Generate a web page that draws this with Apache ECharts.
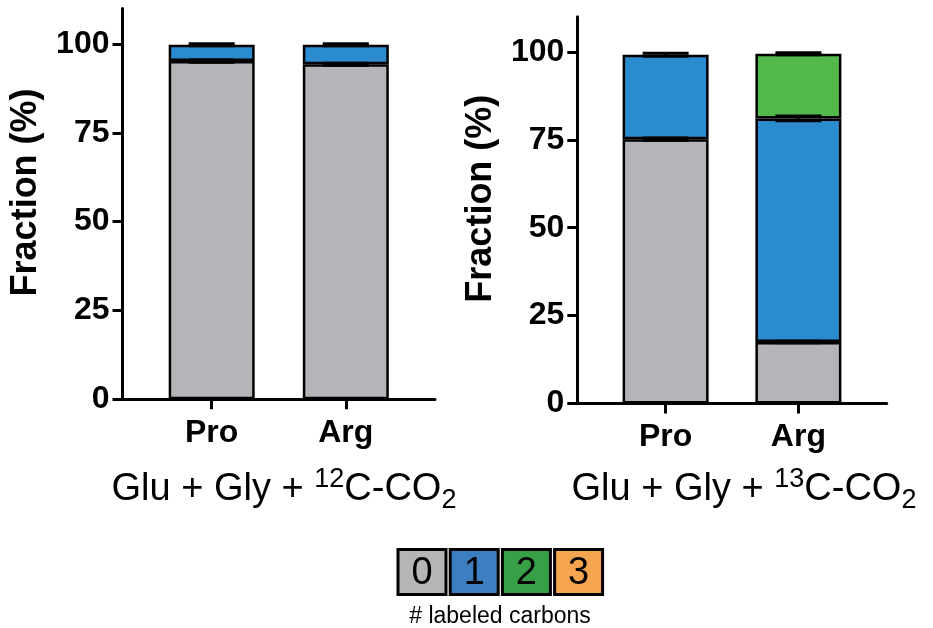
<!DOCTYPE html>
<html>
<head>
<meta charset="utf-8">
<script src="https://cdn.jsdelivr.net/npm/echarts@6/dist/echarts.min.js"></script>
<style>
  html, body { margin: 0; padding: 0; background: #fff; }
  #chart { width: 933px; height: 628px; }
</style>
</head>
<body>
<div id="chart"></div>
<script>
// Amino acids on the x axis and their positions on the (value) x axis
const categories = ['Pro', 'Arg'];
const categoryPos = [1, 2];
// Number of labeled carbons (M+0 ... M+3)
const labelCounts = ['0', '1', '2', '3'];
const yTicks = [0, 25, 50, 75, 100];

// Glu + Gly + 12C-CO2: mean fraction (%) per number of labeled carbons
const m0_12C = [95.2, 94.3];
const m1_12C = [4.6, 5.5];
const m2_12C = [0, 0];
const m3_12C = [0, 0];
// standard deviations
const sd0_12C = [0.3, 0.3];
const sd1_12C = [0.3, 0.3];
const sd2_12C = [0, 0];
const sd3_12C = [0, 0];

// Glu + Gly + 13C-CO2: mean fraction (%) per number of labeled carbons
const m0_13C = [75.2, 17.5];
const m1_13C = [24.0, 63.6];
const m2_13C = [0, 18.4];
const m3_13C = [0, 0];
// standard deviations
const sd0_13C = [0.3, 0.2];
const sd1_13C = [0.4, 0.7];
const sd2_13C = [0, 0.3];
const sd3_13C = [0, 0];

const barColors = ['#b3b5b8', '#2a8bcf', '#53b94c', '#f7a650'];
const legendColors = ['#b4b5b7', '#3b7fc1', '#37a047', '#f5a54f'];
const FONT = "'Liberation Sans', Arial, Helvetica, sans-serif";

const panels = [
  { means: [m0_12C, m1_12C, m2_12C, m3_12C], sds: [sd0_12C, sd1_12C, sd2_12C, sd3_12C] },
  { means: [m0_13C, m1_13C, m2_13C, m3_13C], sds: [sd0_13C, sd1_13C, sd2_13C, sd3_13C] }
];

const axisLineStyle = { color: '#000', width: 3 };

// Data rows are [fraction, position]; the fraction column comes first so the
// stack is accumulated on the y (fraction) dimension.
function barSeries(k, values, panel) {
  return {
    type: 'bar',
    name: labelCounts[k],
    stack: 'panel' + panel,
    xAxisIndex: panel,
    yAxisIndex: panel,
    barWidth: 86,
    encode: { x: 1, y: 0 },
    data: values.map((v, i) => [v > 0 ? v : '-', categoryPos[i]]),
    itemStyle: { color: barColors[k], borderColor: '#000', borderWidth: 2.5 },
    emphasis: { disabled: true },
    z: 2
  };
}

// Error bars at the top of each stacked segment
function errorSeries(means, sds, panel) {
  const data = [];
  categoryPos.forEach((x, i) => {
    let top = 0;
    means.forEach((m, k) => {
      if (m[i] > 0) {
        top += m[i];
        data.push([x, top, sds[k][i]]);
      }
    });
  });
  return {
    type: 'custom',
    xAxisIndex: panel,
    yAxisIndex: panel,
    data: data,
    z: 5,
    renderItem: function (params, api) {
      const x = api.value(0), y = api.value(1), e = api.value(2);
      const hi = api.coord([x, y + e]);
      const lo = api.coord([x, y - e]);
      const hw = 23;
      const style = { stroke: '#000', lineWidth: 3 };
      return {
        type: 'group',
        children: [
          { type: 'line', shape: { x1: hi[0], y1: hi[1], x2: lo[0], y2: lo[1] }, style: style },
          { type: 'line', shape: { x1: hi[0] - hw, y1: hi[1], x2: hi[0] + hw, y2: hi[1] }, style: style },
          { type: 'line', shape: { x1: lo[0] - hw, y1: lo[1], x2: lo[0] + hw, y2: lo[1] }, style: style }
        ]
      };
    }
  };
}

function xAxisFor(panel) {
  return {
    type: 'value',
    gridIndex: panel,
    min: 0.335,
    max: 2.665,
    axisLine: { show: true, onZero: false, lineStyle: axisLineStyle },
    axisTick: { show: true, customValues: categoryPos, length: 10, lineStyle: axisLineStyle },
    axisLabel: {
      customValues: categoryPos,
      formatter: v => categories[categoryPos.indexOf(v)],
      fontSize: 32, fontWeight: 'bold', color: '#000', fontFamily: FONT, margin: 18
    },
    splitLine: { show: false }
  };
}

function yAxisFor(panel) {
  return {
    type: 'value',
    gridIndex: panel,
    min: 0,
    max: 110,
    axisLine: { show: true, onZero: false, lineStyle: axisLineStyle },
    axisTick: { show: true, customValues: yTicks, length: 10, lineStyle: axisLineStyle },
    axisLabel: {
      customValues: yTicks,
      fontSize: 32, fontWeight: 'bold', color: '#000', fontFamily: FONT, margin: 13
    },
    splitLine: { show: false },
    name: 'Fraction (%)',
    nameLocation: 'middle',
    nameGap: 78,
    nameTextStyle: {
      fontSize: 36, fontWeight: 'bold', color: '#000', fontFamily: FONT,
      padding: [0, 0, 0, 23]
    }
  };
}

const series = [];
panels.forEach((p, panel) => {
  p.means.forEach((vals, k) => series.push(barSeries(k, vals, panel)));
  series.push(errorSeries(p.means, p.sds, panel));
});

// Condition titles with isotope superscript and CO2 subscript
function conditionTitle(x, isotope) {
  return {
    type: 'text',
    x: x,
    y: 466,
    z: 10,
    style: {
      text: '{n|Glu + Gly + }{sup|' + isotope + '}{n|C-CO}{sub|2}',
      align: 'center',
      verticalAlign: 'top',
      fill: '#000',
      font: '38px ' + FONT,
      rich: {
        n: { fontSize: 38, fontFamily: FONT, lineHeight: 48, fill: '#000' },
        sup: { fontSize: 27, fontFamily: FONT, lineHeight: 26, verticalAlign: 'top', fill: '#000' },
        sub: { fontSize: 27, fontFamily: FONT, lineHeight: 20, verticalAlign: 'bottom', fill: '#000' }
      }
    }
  };
}

const legendGraphics = [];
labelCounts.forEach((t, k) => {
  const bx = 398 + k * 52.2, by = 549.5;
  legendGraphics.push({
    type: 'rect',
    z: 10,
    shape: { x: bx, y: by, width: 48, height: 45 },
    style: { fill: legendColors[k], stroke: '#000', lineWidth: 3 }
  });
  legendGraphics.push({
    type: 'text',
    z: 11,
    x: bx + 24,
    y: by + 24.5,
    style: {
      text: t,
      align: 'center',
      verticalAlign: 'middle',
      font: '38px ' + FONT,
      fill: '#000'
    }
  });
});

const option = {
  backgroundColor: '#fff',
  animation: false,
  textStyle: { fontFamily: FONT },
  grid: [
    { left: 122.5, top: 8.5, width: 312.5, height: 390.8, outerBoundsMode: 'none', containLabel: false },
    { left: 577.3, top: 16.8, width: 309.4, height: 386.7, outerBoundsMode: 'none', containLabel: false }
  ],
  xAxis: [xAxisFor(0), xAxisFor(1)],
  yAxis: [yAxisFor(0), yAxisFor(1)],
  series: series,
  graphic: [
    conditionTitle(284, '12'),
    conditionTitle(744, '13'),
    ...legendGraphics,
    {
      type: 'text',
      x: 500,
      y: 616.5,
      z: 10,
      style: {
        text: '# labeled carbons',
        align: 'center',
        verticalAlign: 'middle',
        font: '23px ' + FONT,
        fill: '#000'
      }
    }
  ]
};

const chart = echarts.init(document.getElementById('chart'), null, { renderer: 'canvas' });
chart.setOption(option);
</script>
</body>
</html>
